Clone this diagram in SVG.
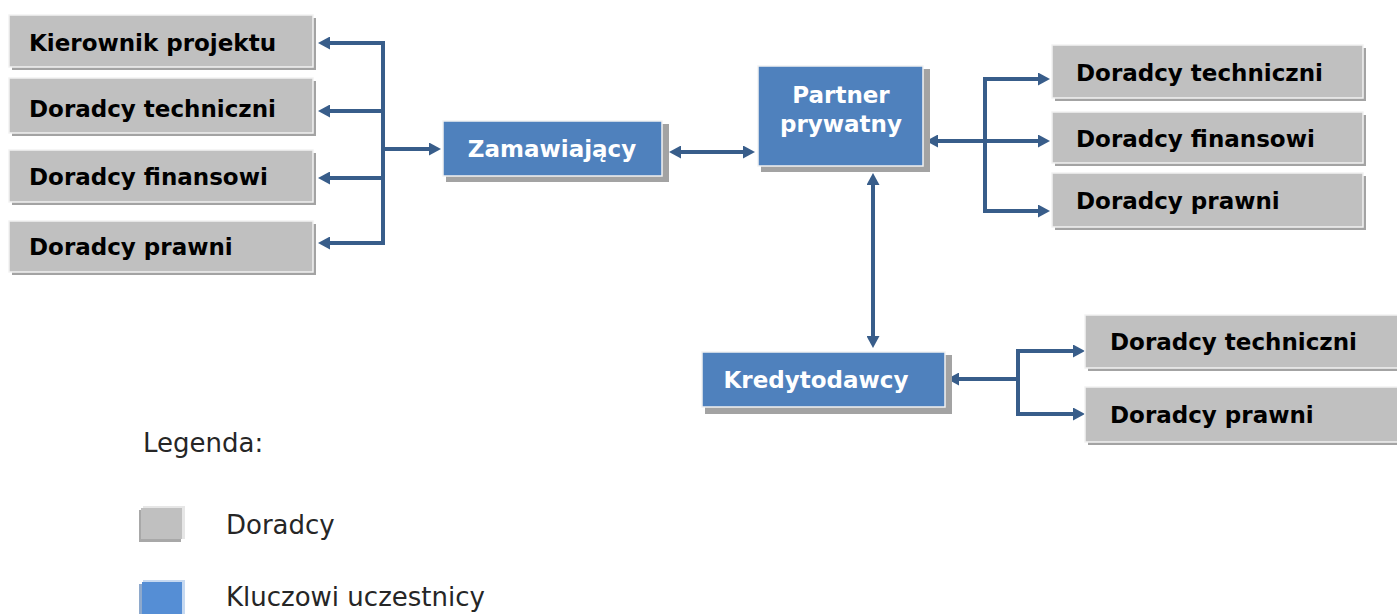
<svg xmlns="http://www.w3.org/2000/svg" width="1397" height="614" viewBox="0 0 1397 614">
<style>
.sh{fill:#a3a3a3}
.g{fill:#c0c0c0;stroke:#f2f2f2;stroke-width:1.5}
.b{fill:#4f81bd;stroke:#f2f2f2;stroke-width:1.5}
.tg{font-family:"DejaVu Sans",sans-serif;font-weight:bold;font-size:23px;fill:#000}
.tb{font-family:"DejaVu Sans",sans-serif;font-weight:bold;font-size:23px;fill:#fff;text-anchor:middle}
.tl{font-family:"DejaVu Sans",sans-serif;font-size:26px;fill:#262626}
.c{fill:none;stroke:#385d8a;stroke-width:4}
.a{marker-end:url(#ah)}
.d{marker-start:url(#ah);marker-end:url(#ah)}
</style>
<defs>
<marker id="ah" markerUnits="userSpaceOnUse" markerWidth="12" markerHeight="13" viewBox="0 0 12 13" refX="2" refY="6.5" orient="auto-start-reverse">
<path d="M0,0 L12,6.5 L0,13 z" fill="#385d8a"/>
</marker>
</defs>
<rect width="1397" height="614" fill="#fff"/>

<g id="connectors">
<path class="c" d="M383,41 V245"/>
<path class="c a" d="M385,43 H328"/>
<path class="c a" d="M385,111 H328"/>
<path class="c a" d="M385,178 H328"/>
<path class="c a" d="M385,243 H328"/>
<path class="c a" d="M381,149 H431"/>
<path class="c d" d="M679,152 H745"/>
<path class="c d" d="M873,183 V338"/>
<path class="c a" d="M987,141 H936"/>
<path class="c" d="M985,77 V213"/>
<path class="c a" d="M983,79 H1040"/>
<path class="c a" d="M983,141 H1040"/>
<path class="c a" d="M983,211 H1040"/>
<path class="c a" d="M1020,379 H957"/>
<path class="c" d="M1018,349 V416"/>
<path class="c a" d="M1016,351 H1075"/>
<path class="c a" d="M1016,414 H1075"/>
</g>

<g id="kierownik">
<rect class="sh" x="12" y="18" width="304" height="52"/>
<rect class="g" x="9" y="15" width="304" height="52"/>
<text class="tg" x="29" y="51">Kierownik projektu</text>
</g>
<g id="left-techniczni">
<rect class="sh" x="12" y="81" width="304" height="55"/>
<rect class="g" x="9" y="78" width="304" height="55"/>
<text class="tg" x="29" y="117">Doradcy techniczni</text>
</g>
<g id="left-finansowi">
<rect class="sh" x="12" y="153" width="304" height="52"/>
<rect class="g" x="9" y="150" width="304" height="52"/>
<text class="tg" x="29" y="185">Doradcy finansowi</text>
</g>
<g id="left-prawni">
<rect class="sh" x="12" y="224" width="304" height="51"/>
<rect class="g" x="9" y="221" width="304" height="51"/>
<text class="tg" x="29" y="255">Doradcy prawni</text>
</g>

<g id="zamawiajacy">
<rect class="sh" x="446" y="124" width="223" height="58"/>
<rect class="b" x="443" y="121" width="219" height="55"/>
<text class="tb" x="552" y="157">Zamawiający</text>
</g>

<g id="partner">
<rect class="sh" x="761" y="69" width="169" height="103"/>
<rect class="b" x="758" y="66" width="165" height="100"/>
<text class="tb" x="841" y="103">Partner</text>
<text class="tb" x="841" y="132">prywatny</text>
</g>

<g id="right-techniczni">
<rect class="sh" x="1055" y="48" width="311" height="53"/>
<rect class="g" x="1052" y="45" width="311" height="53"/>
<text class="tg" x="1076" y="81">Doradcy techniczni</text>
</g>
<g id="right-finansowi">
<rect class="sh" x="1055" y="115" width="311" height="51"/>
<rect class="g" x="1052" y="112" width="311" height="51"/>
<text class="tg" x="1076" y="147">Doradcy finansowi</text>
</g>
<g id="right-prawni">
<rect class="sh" x="1055" y="176" width="311" height="54"/>
<rect class="g" x="1052" y="173" width="311" height="54"/>
<text class="tg" x="1076" y="209">Doradcy prawni</text>
</g>

<g id="kredytodawcy">
<rect class="sh" x="705" y="355" width="247" height="59"/>
<rect class="b" x="702" y="352" width="243" height="55"/>
<text class="tb" x="816" y="388">Kredytodawcy</text>
</g>

<g id="kred-techniczni">
<rect class="sh" x="1088" y="318" width="320" height="53"/>
<rect class="g" x="1085" y="315" width="320" height="53"/>
<text class="tg" x="1110" y="350">Doradcy techniczni</text>
</g>
<g id="kred-prawni">
<rect class="sh" x="1088" y="390" width="320" height="55"/>
<rect class="g" x="1085" y="387" width="320" height="55"/>
<text class="tg" x="1110" y="423">Doradcy prawni</text>
</g>

<g id="legend">
<text class="tl" x="143" y="452">Legenda:</text>
<rect x="143" y="506" width="42" height="33" fill="#e6e6e6"/>
<rect x="139" y="510" width="42" height="32" fill="#a8a8a8"/>
<rect x="141" y="508" width="41" height="31" fill="#c0c0c0"/>
<text class="tl" x="226" y="534">Doradcy</text>
<rect x="143" y="580" width="42" height="36" fill="#c6d9f1"/>
<rect x="139" y="584" width="42" height="32" fill="#8ea9cc"/>
<rect x="142" y="582" width="40" height="34" fill="#558ed5"/>
<text class="tl" x="226" y="606">Kluczowi uczestnicy</text>
</g>
</svg>
